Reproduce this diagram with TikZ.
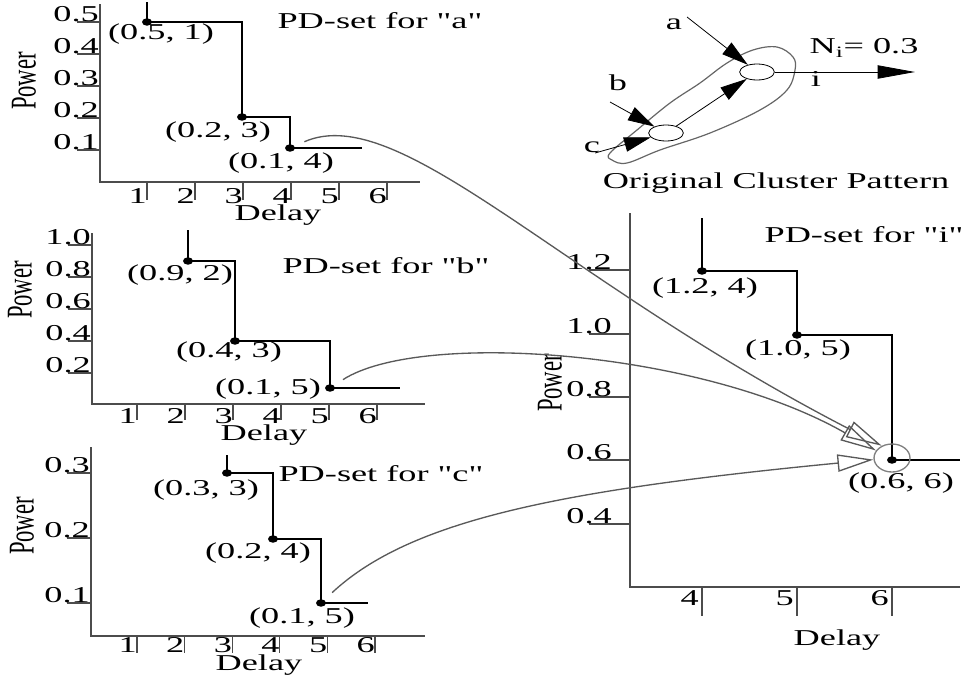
\documentclass[tikz,border=0pt]{standalone}
\usepackage{fontspec}
\setmainfont{Liberation Serif}[FakeStretch=1.6, Ligatures=TeXOff]
\newfontfamily\plainserif{Liberation Serif}
\usepackage{graphicx}
\usetikzlibrary{arrows.meta,shapes.geometric}
\definecolor{axisgray}{gray}{0.3}
\definecolor{linkgray}{gray}{0.35}
\definecolor{ringgray}{gray}{0.4}
\tikzset{
  axis/.style={draw=axisgray, line width=0.8pt},
  stepline/.style={draw=black, line width=0.8pt},
  ptdot/.style={ellipse, fill=black, inner sep=0pt, minimum width=7.5pt, minimum height=5.6pt},
  link/.style={draw=linkgray, line width=1pt, shorten <=8pt, -{Triangle[open, length=27pt, width=13pt]}},
  feed/.style={draw=black, line width=0.6pt, -{Triangle[length=20pt, width=11pt]}},
  txt/.style={inner sep=0pt, font=\fontsize{17}{20}\selectfont},
  powerlabel/.style={txt, rotate=90},
  rim/.style={ellipse, draw=black, line width=0.6pt, minimum width=26pt, minimum height=12pt, inner sep=0pt}
}
\begin{document}
\begin{tikzpicture}[x=0.75pt,y=-0.75pt]
\useasboundingbox (0,0) rectangle (969,682);

% PD-set for "a"
\draw[axis] (100,4) -- (100,182) -- (420,182);
\foreach \v/\y [count=\k] in {0.5/22,0.4/54,0.3/86,0.2/118,0.1/150} {
  \draw[axis] (77,\y) -- (100,\y);
  \node[txt, anchor=base east] (ay\k) at (99,\y-1) {\v};
}
\foreach \k in {1,...,6} {
  \draw[axis] ({147+48*(\k-1)},182) -- ++(0,18);
  \node[txt, anchor=north east] (ax\k) at ({147+48*(\k-1)},188) {\k};
}
\node[ptdot] (a1) at (147,22) {};
\node[ptdot] (a2) at (242,117) {};
\node[ptdot] (a3) at (290,148) {};
\draw[stepline] (a1.center) -- ++(0,-20);
\draw[stepline] (a1.center) -| (a2.center) -| (a3.center) -- (362,148);
\node[txt] (la1) at (161,34) {(0.5, 1)};
\node[txt] (la2) at (218,132) {(0.2, 3)};
\node[txt] (la3) at (281,163) {(0.1, 4)};
\node[txt] (titlea) at (380,21) {PD-set for "a"};
\node[txt] (delaya) at (278,215) {Delay};
\node[powerlabel] (powera) at (24,81) {\scalebox{1}[1.6]{\plainserif Power}};

% PD-set for "b"
\draw[axis] (92,233) -- (92,404) -- (425,404);
\foreach \v/\y [count=\k] in {1.0/245,0.8/277,0.6/309,0.4/341,0.2/373} {
  \draw[axis] (68,\y) -- (92,\y);
  \node[txt, anchor=base east] (by\k) at (91,\y-1) {\v};
}
\foreach \k in {1,...,6} {
  \draw[axis] ({137+48*(\k-1)},404) -- ++(0,16);
  \node[txt, anchor=north east] (bx\k) at ({137+48*(\k-1)},408) {\k};
}
\node[ptdot] (b1) at (188,261) {};
\node[ptdot] (b2) at (235,341) {};
\node[ptdot] (b3) at (330,388) {};
\draw[stepline] (b1.center) -- ++(0,-31);
\draw[stepline] (b1.center) -| (b2.center) -| (b3.center) -- (400,388);
\node[txt] (lb1) at (180,275) {(0.9, 2)};
\node[txt] (lb2) at (229,352) {(0.4, 3)};
\node[txt] (lb3) at (268,389) {(0.1, 5)};
\node[txt] (titleb) at (386,266) {PD-set for "b"};
\node[txt] (delayb) at (264,435) {Delay};
\node[powerlabel] (powerb) at (20,290) {\scalebox{1}[1.6]{\plainserif Power}};

% PD-set for "c"
\draw[axis] (91,447) -- (91,636) -- (425,636);
\foreach \v/\y [count=\k] in {0.3/473,0.2/538,0.1/603} {
  \draw[axis] (67,\y) -- (91,\y);
  \node[txt, anchor=base east] (cy\k) at (90,\y-1) {\v};
}
\foreach \k in {1,...,6} {
  \draw[axis] ({137+47.6*(\k-1)},636) -- ++(0,17);
  \node[txt, anchor=north east] (cx\k) at ({137+47.6*(\k-1)},637) {\k};
}
\node[ptdot] (c1) at (227,473) {};
\node[ptdot] (c2) at (273,539) {};
\node[ptdot] (c3) at (321,603) {};
\draw[stepline] (c1.center) -- ++(0,-18);
\draw[stepline] (c1.center) -| (c2.center) -| (c3.center) -- (368,603);
\node[txt] (lc1) at (206,490) {(0.3, 3)};
\node[txt] (lc2) at (258,553) {(0.2, 4)};
\node[txt] (lc3) at (302,618) {(0.1, 5)};
\node[txt] (titlec) at (381,474) {PD-set for "c"};
\node[txt] (delayc) at (259,665) {Delay};
\node[powerlabel] (powerc) at (22,526) {\scalebox{1}[1.6]{\plainserif Power}};

% PD-set for "i"
\draw[axis] (630,213) -- (630,587) -- (960,587);
\foreach \v/\y [count=\k] in {1.2/270,1.0/334,0.8/397,0.6/460,0.4/524} {
  \draw[axis] (589,\y) -- (630,\y);
  \node[txt, anchor=base east] (iy\k) at (612,\y-1) {\v};
}
\foreach \v/\x in {4/702,5/797,6/892} {
  \draw[axis] (\x,587) -- ++(0,29);
  \node[txt, anchor=north east] (ix\v) at (\x-3,590) {\v};
}
\node[ptdot] (i1) at (702,271) {};
\node[ptdot] (i2) at (797,335) {};
\node[ptdot] (i3) at (892,460) {};
\draw[stepline] (i1.center) -- ++(0,-53);
\draw[stepline] (i1.center) -| (i2.center) -| (i3.center) -- (960,460);
\node[ellipse, draw=gray, line width=1pt, minimum width=27pt, minimum height=21pt] (ring) at (892,458) {};
\node[txt] (li1) at (705,288) {(1.2, 4)};
\node[txt] (li2) at (798,350) {(1.0, 5)};
\node[txt] (li3) at (901,483) {(0.6, 6)};
\node[txt] (titlei) at (864,235) {PD-set for "i"};
\node[txt] (delayi) at (837,640) {Delay};
\node[powerlabel] (poweri) at (550,383) {\scalebox{1}[1.6]{\plainserif Power}};

% original cluster
\draw[ringgray, line width=0.9pt] plot[smooth cycle, tension=0.6] coordinates {
  (610,153) (637,130) (670,103) (700,83) (727,63) (753,50) (777,47) (793,57)
  (795,70) (787,90) (760,110) (710,133) (660,150) (627,163) (612,160)};
\node[rim] (nb) at (666,133) {};
\node[rim] (ni) at (757,72) {};
\coordinate (ina) at (687,17);
\coordinate (inb) at (610,102);
\coordinate (inc) at (595,153);
\coordinate (outi) at (915,72);
\draw[feed] (ina) -- (ni);
\draw[feed] (inb) -- (nb);
\draw[feed] (inc) -- (nb);
\draw[feed] (nb) -- (ni);
\draw[feed, -{Triangle[length=28pt, width=10pt]}] (ni) -- (outi);
\node[txt] (lbla) at (674,24) {a};
\node[txt] (lblb) at (618,83) {b};
\node[txt] (lblc) at (592,147) {c};
\node[txt] (lbli) at (816,79) {i};
\node[txt] (ncount) at (864,48) {N\textsubscript{i}= 0.3};
\node[txt] (clustercap) at (776,183) {Original Cluster Pattern};

% merging the sets
\draw[link] (a3) .. controls (400,100) and (560,280) .. (ring.130);
\draw[link] (b3) .. controls (420,330) and (700,350) .. (ring.155);
\draw[link] (c3) .. controls (410,520) and (560,490) .. (ring.185);
\end{tikzpicture}
\end{document}
